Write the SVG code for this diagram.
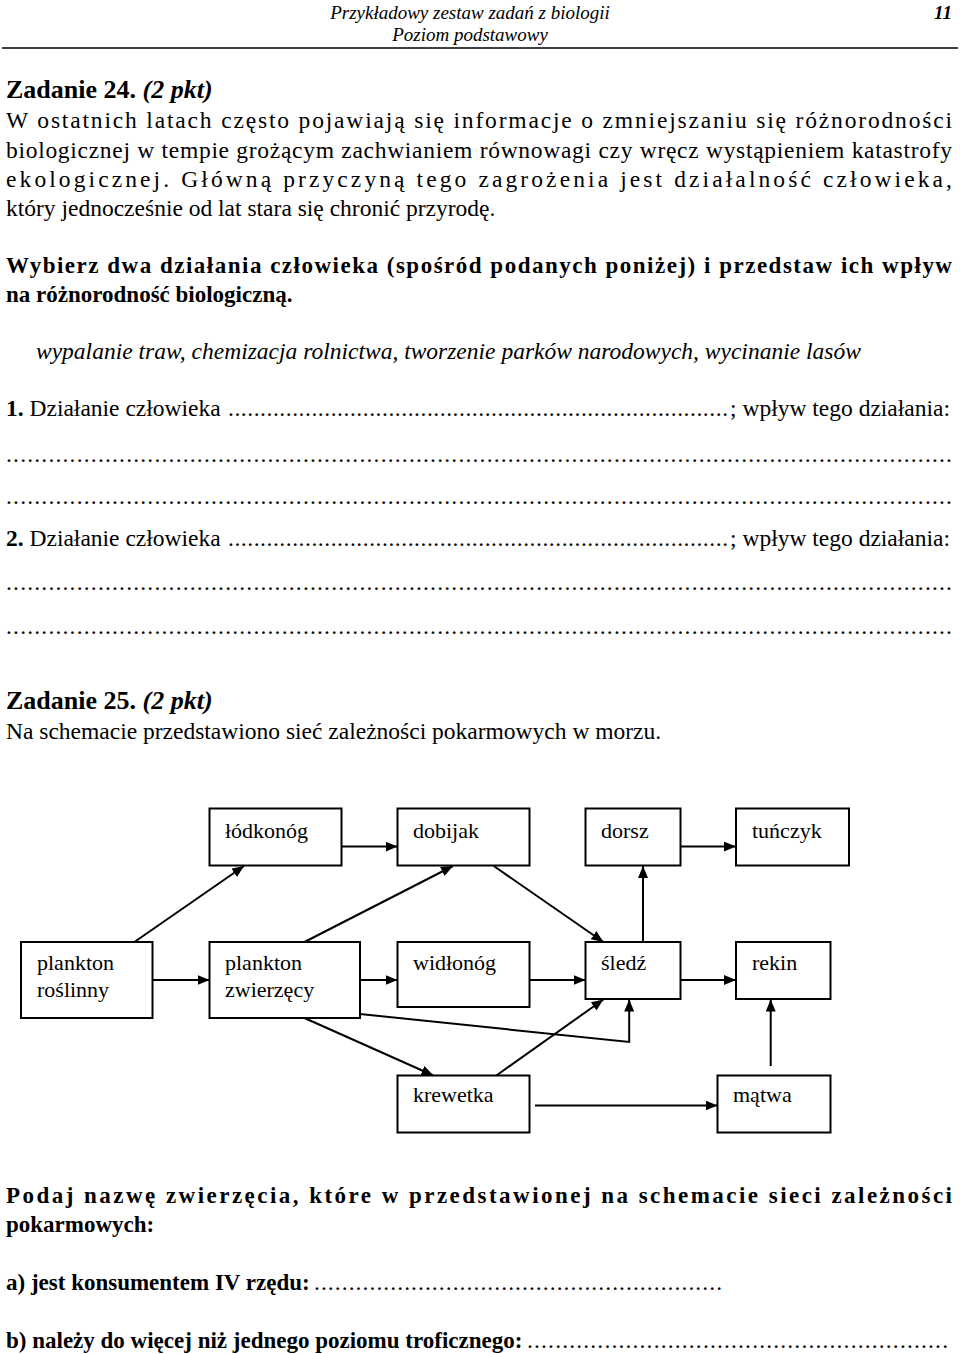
<svg xmlns="http://www.w3.org/2000/svg" width="960" height="1354" viewBox="0 0 960 1354">
<style>
text{font-family:"Liberation Serif","Times New Roman",serif;fill:#000}
.h{font-size:19px;font-style:italic}
.b{font-size:23.5px}
.bb{font-size:23px;font-weight:bold}
.z{font-size:26px;font-weight:bold}
.n{font-size:22px}
rect{fill:#fff;stroke:#000;stroke-width:2}
.c line,.c polyline{stroke:#000;stroke-width:2;fill:none}
</style>
<defs><marker id="a" viewBox="0 0 12 10" refX="12" refY="5" markerWidth="12" markerHeight="10" markerUnits="userSpaceOnUse" orient="auto"><path d="M0,0L12,5L0,10z" fill="#000"/></marker></defs>
<rect width="960" height="1354" style="fill:#fff;stroke:none"/>
<text class="h" x="470" y="19" text-anchor="middle">Przykładowy zestaw zadań z biologii</text>
<text class="h" x="470" y="41" text-anchor="middle">Poziom podstawowy</text>
<text class="h" x="952" y="19" text-anchor="end" font-weight="bold">11</text>
<line x1="2" y1="48" x2="958" y2="48" stroke="#000" stroke-width="1.5"/>
<text class="z" x="6" y="98">Zadanie 24. <tspan font-style="italic">(2 pkt)</tspan></text>
<text class="b" x="6" y="128" textLength="946" lengthAdjust="spacing">W ostatnich latach często pojawiają się informacje o zmniejszaniu się różnorodności</text>
<text class="b" x="6" y="158" textLength="946" lengthAdjust="spacing">biologicznej w tempie grożącym zachwianiem równowagi czy wręcz wystąpieniem katastrofy</text>
<text class="b" x="6" y="187" textLength="946" lengthAdjust="spacing">ekologicznej. Główną przyczyną tego zagrożenia jest działalność człowieka,</text>
<text class="b" x="6" y="216">który jednocześnie od lat stara się chronić przyrodę.</text>
<text class="bb" x="6" y="273" textLength="946" lengthAdjust="spacing">Wybierz dwa działania człowieka (spośród podanych poniżej) i przedstaw ich wpływ</text>
<text class="bb" x="6" y="302">na różnorodność biologiczną.</text>
<text class="b" x="36" y="359" font-style="italic">wypalanie traw, chemizacja rolnictwa, tworzenie parków narodowych, wycinanie lasów</text>
<text class="b" x="6" y="416"><tspan font-weight="bold">1.</tspan> Działanie człowieka</text>
<text class="b" x="228" y="416" textLength="500" lengthAdjust="spacing">..............................................................................</text>
<text class="b" x="950" y="416" text-anchor="end">; wpływ tego działania:</text>
<text class="b" x="6" y="462" textLength="946" lengthAdjust="spacing">......................................................................................................................................</text>
<text class="b" x="6" y="504" textLength="946" lengthAdjust="spacing">......................................................................................................................................</text>
<text class="b" x="6" y="546"><tspan font-weight="bold">2.</tspan> Działanie człowieka</text>
<text class="b" x="228" y="546" textLength="500" lengthAdjust="spacing">..............................................................................</text>
<text class="b" x="950" y="546" text-anchor="end">; wpływ tego działania:</text>
<text class="b" x="6" y="590" textLength="946" lengthAdjust="spacing">......................................................................................................................................</text>
<text class="b" x="6" y="634" textLength="946" lengthAdjust="spacing">......................................................................................................................................</text>
<text class="z" x="6" y="709">Zadanie 25. <tspan font-style="italic">(2 pkt)</tspan></text>
<text class="b" x="6" y="739">Na schemacie przedstawiono sieć zależności pokarmowych w morzu.</text>

<g id="n-lodkonog"><rect x="209.5" y="808.5" width="132" height="57"/><text class="n" x="225" y="838">łódkonóg</text></g>
<g id="n-dobijak"><rect x="397.5" y="808.5" width="132" height="57"/><text class="n" x="413" y="838">dobijak</text></g>
<g id="n-dorsz"><rect x="585.5" y="808.5" width="95" height="57"/><text class="n" x="601" y="838">dorsz</text></g>
<g id="n-tunczyk"><rect x="736" y="808.5" width="113" height="57"/><text class="n" x="752" y="838">tuńczyk</text></g>
<g id="n-pr"><rect x="21" y="942" width="131.5" height="76"/><text class="n" x="37" y="970">plankton</text><text class="n" x="37" y="997">roślinny</text></g>
<g id="n-pz"><rect x="209.5" y="942" width="150.5" height="76"/><text class="n" x="225" y="970">plankton</text><text class="n" x="225" y="997">zwierzęcy</text></g>
<g id="n-widlonog"><rect x="397.5" y="942" width="132" height="65"/><text class="n" x="413" y="970">widłonóg</text></g>
<g id="n-sledz"><rect x="585.5" y="942" width="95" height="57"/><text class="n" x="601" y="970">śledź</text></g>
<g id="n-rekin"><rect x="736" y="942" width="94.5" height="57"/><text class="n" x="752" y="970">rekin</text></g>
<g id="n-krewetka"><rect x="397.5" y="1075.5" width="132" height="57"/><text class="n" x="413" y="1102">krewetka</text></g>
<g id="n-matwa"><rect x="717.5" y="1075.5" width="113" height="57"/><text class="n" x="733" y="1102">mątwa</text></g>

<g class="c" id="connectors">
<line x1="341.5" y1="846.6" x2="397.5" y2="846.6" marker-end="url(#a)"/>
<line x1="680.5" y1="846.6" x2="736" y2="846.6" marker-end="url(#a)"/>
<line x1="152.5" y1="980" x2="209.5" y2="980" marker-end="url(#a)"/>
<line x1="360" y1="980" x2="397.5" y2="980" marker-end="url(#a)"/>
<line x1="529.5" y1="980" x2="585.5" y2="980" marker-end="url(#a)"/>
<line x1="680.5" y1="980" x2="736" y2="980" marker-end="url(#a)"/>
<line x1="535" y1="1105.5" x2="717.5" y2="1105.5" marker-end="url(#a)"/>
<line x1="134.4" y1="942" x2="244" y2="866" marker-end="url(#a)"/>
<line x1="304.5" y1="942" x2="453" y2="866" marker-end="url(#a)"/>
<line x1="493.7" y1="866" x2="603.4" y2="942" marker-end="url(#a)"/>
<line x1="643" y1="942" x2="643" y2="866" marker-end="url(#a)"/>
<line x1="304.5" y1="1018" x2="433.4" y2="1075.5" marker-end="url(#a)"/>
<line x1="496.4" y1="1075.5" x2="603.4" y2="999.5" marker-end="url(#a)"/>
<polyline points="360,1014 629.2,1042 629.2,999.5" marker-end="url(#a)"/>
<line x1="770.7" y1="1066" x2="770.7" y2="999.5" marker-end="url(#a)"/>
</g>

<text class="bb" x="6" y="1203" textLength="946" lengthAdjust="spacing">Podaj nazwę zwierzęcia, które w przedstawionej na schemacie sieci zależności</text>
<text class="bb" x="6" y="1232">pokarmowych:</text>
<text class="bb" x="6" y="1290">a)  jest konsumentem IV rzędu:</text>
<text class="b" x="314" y="1290" textLength="408" lengthAdjust="spacing">...........................................................</text>
<text class="bb" x="6" y="1348">b)  należy do więcej niż jednego poziomu troficznego:</text>
<text class="b" x="527" y="1348" textLength="421" lengthAdjust="spacing">............................................................</text>
</svg>
